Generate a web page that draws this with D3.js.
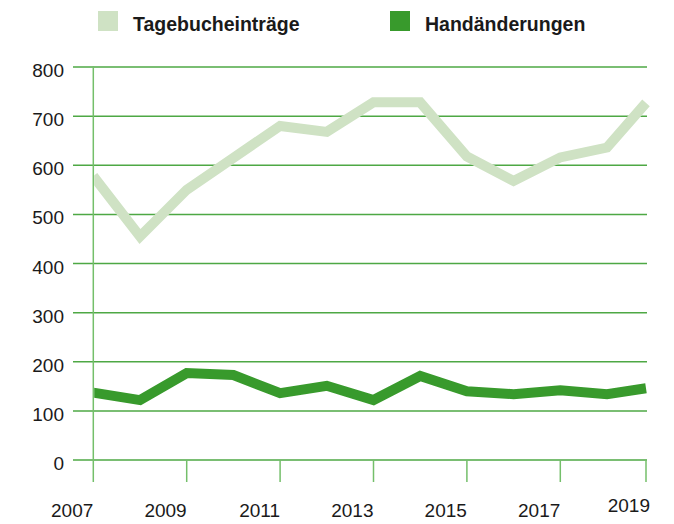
<!DOCTYPE html>
<html>
<head>
<meta charset="utf-8">
<script src="https://cdn.jsdelivr.net/npm/d3@7/dist/d3.min.js"></script>
<style>
  html, body { margin: 0; padding: 0; background: #fff; }
  svg { display: block; }
  text { font-family: "Liberation Sans", Arial, sans-serif; }
</style>
</head>
<body>
<script>
// ---- data ----
const years = [2007, 2008, 2009, 2010, 2011, 2012, 2013, 2014, 2015, 2016, 2017, 2018, 2019];
const tagebuch = [578, 455, 550, 615, 680, 668, 728, 728, 618, 568, 616, 636, 727];
const hand = [137, 122, 177, 173, 136, 151, 122, 171, 140, 134, 142, 134, 146];
const seriesNames = ["Tagebucheinträge", "Handänderungen"];
const yTicks = [0, 100, 200, 300, 400, 500, 600, 700, 800];
const xTicks = [2007, 2009, 2011, 2013, 2015, 2017, 2019];

// ---- styles ----
const W = 674, H = 524;
const cLight = "#cfe2c4";
const cDark = "#389a2c";
const cGrid = "#4ea844";
const cAxis = "#74bf6a";
const cText = "#1a1a1a";

const svg = d3.select("body").append("svg").attr("width", W).attr("height", H);

const x = d3.scaleLinear().domain([2007, 2018, 2019]).range([93.3, 607, 646]);
const y = d3.scaleLinear().domain([0, 800]).range([460, 67]);

// grid lines
const gridLeft = 73, gridRight = 647;
svg.append("g").selectAll("line").data(yTicks).join("line")
  .attr("x1", gridLeft).attr("x2", gridRight)
  .attr("y1", d => y(d)).attr("y2", d => y(d))
  .attr("stroke", cGrid).attr("stroke-width", 1.5);

// y labels
svg.append("g").selectAll("text").data(yTicks).join("text")
  .attr("x", 64).attr("y", d => y(d) + 10)
  .attr("text-anchor", "end")
  .attr("font-size", 19).attr("fill", cText)
  .text(d => d);

// y axis vertical line
svg.append("line")
  .attr("x1", x(2007)).attr("x2", x(2007))
  .attr("y1", 66).attr("y2", 482)
  .attr("stroke", cAxis).attr("stroke-width", 1.5);

// x ticks
const xg = svg.append("g");
xg.selectAll("line").data(xTicks.slice(1)).join("line")
  .attr("x1", d => x(d)).attr("x2", d => x(d))
  .attr("y1", 460).attr("y2", 482)
  .attr("stroke", cAxis).attr("stroke-width", 1.5);
xg.selectAll("text").data(xTicks).join("text")
  .attr("x", d => x(d) + (d === 2019 ? 4 : 0))
  .attr("y", d => d === 2019 ? 512 : 517)
  .attr("text-anchor", "end")
  .attr("font-size", 19).attr("fill", cText)
  .text(d => d);

// clip
svg.append("clipPath").attr("id", "plotclip").append("rect")
  .attr("x", 94.2).attr("y", 40).attr("width", 580).attr("height", 440);

const line = d3.line().x((d, i) => x(years[i])).y(d => y(d));
const lines = svg.append("g").attr("clip-path", "url(#plotclip)");
lines.append("path").attr("d", line(tagebuch))
  .attr("fill", "none").attr("stroke", cLight).attr("stroke-width", 10)
  .attr("stroke-linejoin", "miter").attr("stroke-linecap", "butt");
lines.append("path").attr("d", line(hand))
  .attr("fill", "none").attr("stroke", cDark).attr("stroke-width", 10)
  .attr("stroke-linejoin", "miter").attr("stroke-linecap", "butt");

// legend
const legend = [
  { name: seriesNames[0], color: cLight, x: 98 },
  { name: seriesNames[1], color: cDark, x: 390 }
];
const lg = svg.append("g").selectAll("g").data(legend).join("g")
  .attr("transform", d => `translate(${d.x},11)`);
lg.append("rect").attr("width", 20).attr("height", 20).attr("fill", d => d.color);
lg.append("text").attr("x", 35).attr("y", 20)
  .attr("font-size", 19.5).attr("font-weight", "bold").attr("fill", cText)
  .text(d => d.name);
</script>
</body>
</html>
